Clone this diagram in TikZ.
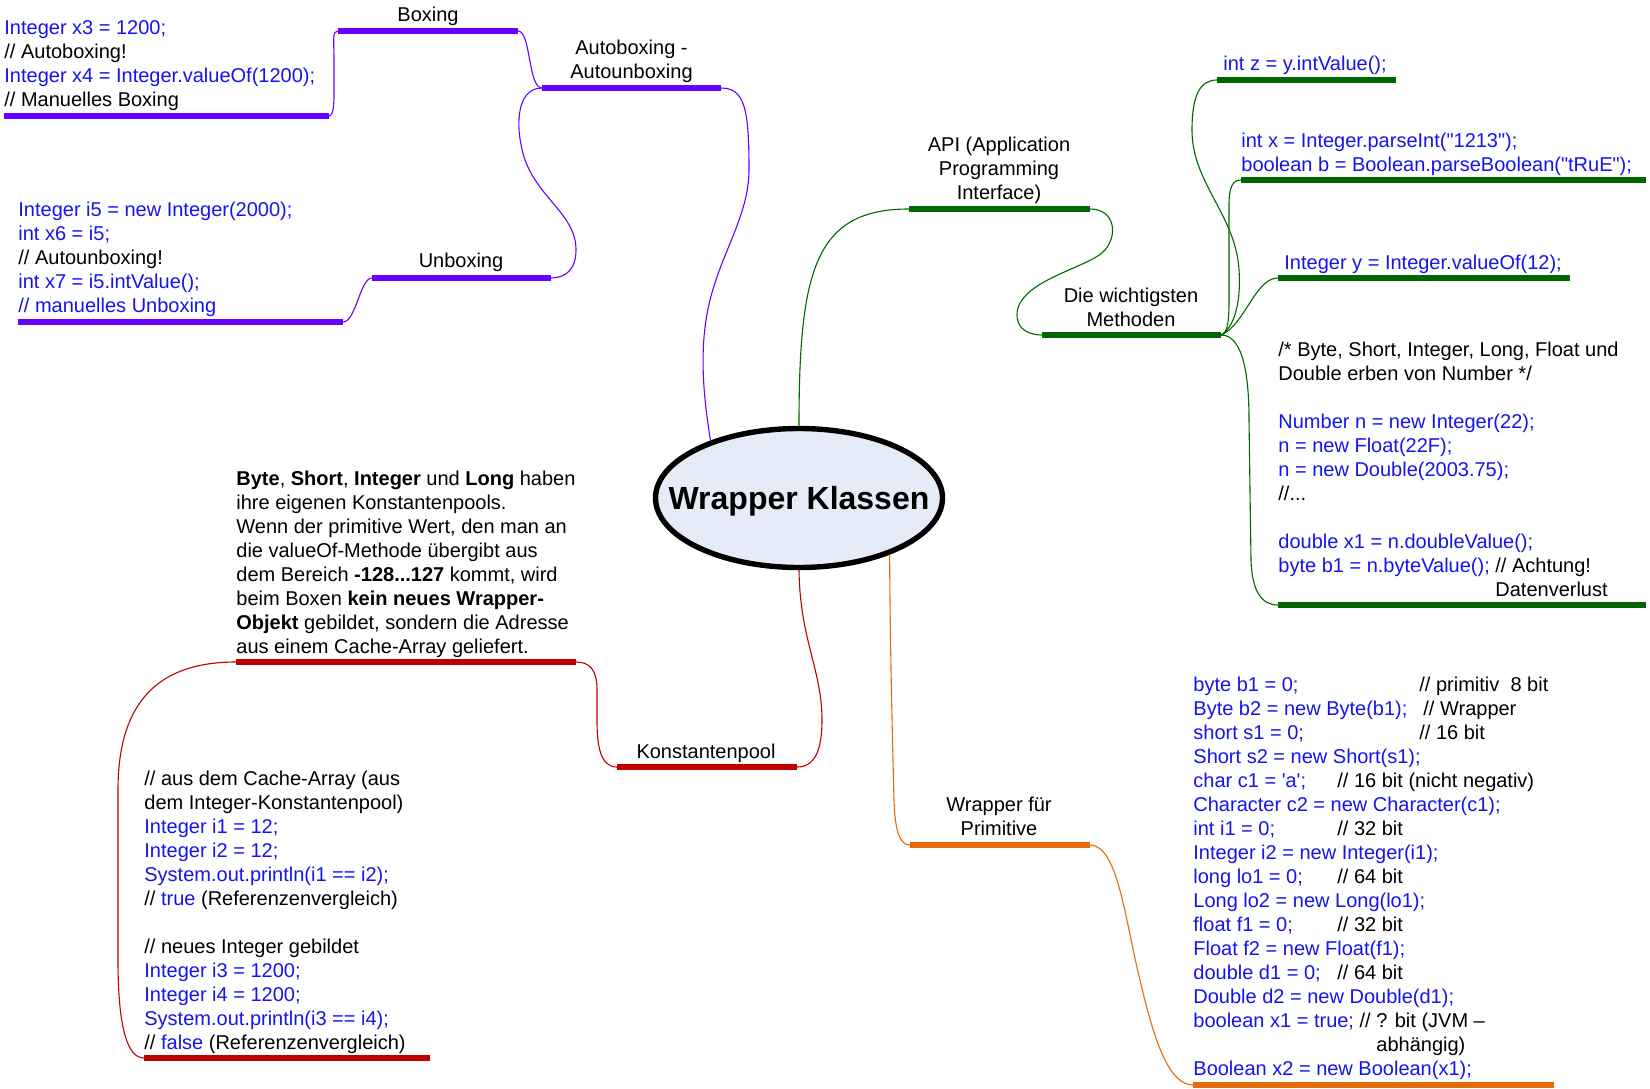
\documentclass[tikz,border=0pt]{standalone}
\usepackage{fontspec}
\setmainfont{Liberation Sans}
\usetikzlibrary{shapes.geometric}
\definecolor{cpurple}{RGB}{102,0,255}
\definecolor{cgreen}{RGB}{0,102,0}
\definecolor{cred}{RGB}{192,0,0}
\definecolor{corange}{RGB}{226,107,10}
\definecolor{cblue}{RGB}{20,20,235}
\definecolor{cfill}{RGB}{229,235,247}
\newcommand{\bl}[1]{\textcolor{cblue}{#1}}
\newcommand{\tabat}[2]{\makebox[#1][l]{#2}}
\newcommand{\lblk}[1]{\begin{tabular}[t]{@{}l@{}}#1\end{tabular}}
\newcommand{\cblk}[1]{\begin{tabular}[t]{@{}c@{}}#1\end{tabular}}
\newcommand{\dq}{\textquotedbl}
\begin{document}
\begin{tikzpicture}[x=0.5pt,y=-0.5pt,font=\fontsize{10}{12}\selectfont,
  txt/.style={inner sep=0pt,anchor=base west},
  ctxt/.style={inner sep=0pt,anchor=base},
  bar/.style={line width=2.7pt},
  conn/.style={line width=0.55pt}]
\useasboundingbox (0,0) rectangle (1650,1088);

% central node
\node[ellipse, draw=black, line width=2.7pt, fill=cfill, minimum width=143.5pt,
      minimum height=69.5pt, inner sep=0pt] (W) at (799,498) {};
\node[ctxt, font=\fontsize{16}{19}\selectfont\bfseries] (Wt) at (799,509) {Wrapper Klassen};

% ---------------- purple branch
\coordinate (aaL) at (542,88);  \coordinate (aaR) at (721,88);
\coordinate (boxL) at (338,31); \coordinate (boxR) at (518,31);
\coordinate (b1L) at (4,116);   \coordinate (b1R) at (329,116);
\coordinate (unL) at (372,278); \coordinate (unR) at (551,278);
\coordinate (b2L) at (18,322);  \coordinate (b2R) at (343,322);
\foreach \a/\b in {aaL/aaR,boxL/boxR,b1L/b1R,unL/unR,b2L/b2R}
  \draw[bar,cpurple] (\a) -- (\b);
\node[ctxt] (aa) at (631.5,54) {\cblk{Autoboxing -\\Autounboxing}};
\node[ctxt] (box) at (428,21) {Boxing};
\node[ctxt] (unb) at (461,267) {Unboxing};
\node[txt] (t1) at (4,34) {\lblk{\bl{Integer x3 = 1200;}\\// Autoboxing!\\\bl{Integer x4 = Integer.valueOf(1200);}\\// Manuelles Boxing}};
\node[txt] (t2) at (18,216.5) {\lblk{\bl{Integer i5 = new Integer(2000);}\\\bl{int x6 = i5;}\\// Autounboxing!\\\bl{int x7 = i5.intValue();}\\\bl{// manuelles Unboxing}}};
\draw[conn,cpurple] (W.147) .. controls (704,400) and (700,360) .. (706,320)
  .. controls (715,260) and (749,220) .. (749,170)
  .. controls (749,110) and (745,88) .. (aaR);
\draw[conn,cpurple] (aaL) .. controls (528,88) and (531,31) .. (boxR);
\draw[conn,cpurple] (aaL) .. controls (515,88) and (515,130) .. (525,160)
  .. controls (540,200) and (576,215) .. (576,250)
  .. controls (576,270) and (565,278) .. (unR);
\draw[conn,cpurple] (boxL) .. controls (332,31) and (334,40) .. (334,60) -- (334,95)
  .. controls (334,110) and (332,116) .. (b1R);
\draw[conn,cpurple] (unL) .. controls (360,278) and (356,322) .. (b2R);

% ---------------- green branch
\coordinate (apiL) at (909,209);  \coordinate (apiR) at (1090,209);
\coordinate (methL) at (1042,335); \coordinate (methR) at (1221,335);
\coordinate (izL) at (1217,80);   \coordinate (izR) at (1396,80);
\coordinate (pbL) at (1241,180);  \coordinate (pbR) at (1646,180);
\coordinate (ivL) at (1278,278);  \coordinate (ivR) at (1570,278);
\coordinate (bgL) at (1278,605);  \coordinate (bgR) at (1646,605);
\foreach \a/\b in {apiL/apiR,methL/methR,izL/izR,pbL/pbR,ivL/ivR,bgL/bgR}
  \draw[bar,cgreen] (\a) -- (\b);
\node[ctxt] (api) at (999,151) {\cblk{API (Application\\Programming\\Interface)}};
\node[ctxt] (meth) at (1131,302) {\cblk{Die wichtigsten\\Methoden}};
\node[txt] (iz) at (1223,70) {\bl{int z = y.intValue();}};
\node[txt] (pb) at (1241,147) {\lblk{\bl{int x = Integer.parseInt(\dq 1213\dq);}\\\bl{boolean b = Boolean.parseBoolean(\dq tRuE\dq);}}};
\node[txt] (iv) at (1284,269) {\bl{Integer y = Integer.valueOf(12);}};
\node[txt] (bg) at (1278,356) {\lblk{/* Byte, Short, Integer, Long, Float und\\Double erben von Number */\\ \\\bl{Number n = new Integer(22);}\\\bl{n = new Float(22F);}\\\bl{n = new Double(2003.75);}\\//...\\ \\\bl{double x1 = n.doubleValue();}\\\bl{byte b1 = n.byteValue();} // Achtung!\\\hspace*{108.5pt}Datenverlust}};
\draw[conn,cgreen] (W.north) .. controls (799,270) and (815,209) .. (apiL);
\draw[conn,cgreen] (apiR) .. controls (1115,209) and (1118,235) .. (1105,250)
  .. controls (1090,268) and (1017,280) .. (1017,315)
  .. controls (1017,330) and (1030,335) .. (methL);
\draw[conn,cgreen] (methR) .. controls (1238,325) and (1242,290) .. (1238,260)
  .. controls (1230,210) and (1192,180) .. (1192,130)
  .. controls (1192,95) and (1200,80) .. (izL);
\draw[conn,cgreen] (methR) .. controls (1228,333) and (1229,320) .. (1229,300) -- (1229,205)
  .. controls (1229,186) and (1233,180) .. (pbL);
\draw[conn,cgreen] (methR) .. controls (1245,325) and (1255,278) .. (ivL);
\draw[conn,cgreen] (methR) .. controls (1240,335) and (1249,365) .. (1249,420) -- (1251,560)
  .. controls (1252,592) and (1262,605) .. (bgL);

% ---------------- red branch
\coordinate (kpL) at (617,767); \coordinate (kpR) at (797,767);
\coordinate (btL) at (236,662); \coordinate (btR) at (576,662);
\coordinate (lbL) at (144,1058); \coordinate (lbR) at (430,1058);
\foreach \a/\b in {kpL/kpR,btL/btR,lbL/lbR}
  \draw[bar,cred] (\a) -- (\b);
\node[ctxt] (kp) at (706,758) {Konstantenpool};
\node[txt] (bt) at (236,485) {\lblk{\textbf{Byte}, \textbf{Short}, \textbf{Integer} und \textbf{Long} haben\\ihre eigenen Konstantenpools.\\Wenn der primitive Wert, den man an\\die valueOf-Methode übergibt aus\\dem Bereich \textbf{-128...127} kommt, wird\\beim Boxen \textbf{kein neues Wrapper-}\\\textbf{Objekt} gebildet, sondern die Adresse\\aus einem Cache-Array geliefert.}};
\node[txt] (lb) at (144,785) {\lblk{// aus dem Cache-Array (aus\\dem Integer-Konstantenpool)\\\bl{Integer i1 = 12;}\\\bl{Integer i2 = 12;}\\\bl{System.out.println(i1 == i2);}\\// \bl{true} (Referenzenvergleich)\\ \\// neues Integer gebildet\\\bl{Integer i3 = 1200;}\\\bl{Integer i4 = 1200;}\\\bl{System.out.println(i3 == i4);}\\// \bl{false} (Referenzenvergleich)}};
\draw[conn,cred] (W.south) .. controls (800,640) and (822,670) .. (822,720)
  .. controls (822,750) and (815,767) .. (kpR);
\draw[conn,cred] (kpL) .. controls (600,767) and (597,745) .. (597,720) -- (597,690)
  .. controls (597,670) and (590,662) .. (btR);
\draw[conn,cred] (btL) .. controls (160,662) and (118,700) .. (118,790) -- (118,960)
  .. controls (118,1030) and (128,1058) .. (lbL);

% ---------------- orange branch
\coordinate (wpL) at (910,845); \coordinate (wpR) at (1090,845);
\coordinate (lsL) at (1193,1085); \coordinate (lsR) at (1554,1085);
\foreach \a/\b in {wpL/wpR,lsL/lsR}
  \draw[bar,corange] (\a) -- (\b);
\node[ctxt] (wp) at (999,811) {\cblk{Wrapper für\\Primitive}};
\node[txt] (ls) at (1193,691) {\lblk{%
\tabat{113pt}{\bl{byte b1 = 0;}}// primitiv\ \ 8 bit\\
\tabat{115pt}{\bl{Byte b2 = new Byte(b1);}}// Wrapper\\
\tabat{113pt}{\bl{short s1 = 0;}}// 16 bit\\
\bl{Short s2 = new Short(s1);}\\
\tabat{72pt}{\bl{char c1 = \textquotesingle a\textquotesingle;}}// 16 bit (nicht negativ)\\
\bl{Character c2 = new Character(c1);}\\
\tabat{72pt}{\bl{int i1 = 0;}}// 32 bit\\
\bl{Integer i2 = new Integer(i1);}\\
\tabat{72pt}{\bl{long lo1 = 0;}}// 64 bit\\
\bl{Long lo2 = new Long(lo1);}\\
\tabat{72pt}{\bl{float f1 = 0;}}// 32 bit\\
\bl{Float f2 = new Float(f1);}\\
\tabat{72pt}{\bl{double d1 = 0;}}// 64 bit\\
\bl{Double d2 = new Double(d1);}\\
\bl{boolean x1 = true;} // ? bit (JVM –\\
\hspace*{91.5pt}abhängig)\\
\bl{Boolean x2 = new Boolean(x1);}}};
\draw[conn,corange] (W.-32) .. controls (890,650) and (893,760) .. (894,800)
  .. controls (895,832) and (900,845) .. (wpL);
\draw[conn,corange] (wpR) .. controls (1118,845) and (1125,920) .. (1140,980)
  .. controls (1155,1045) and (1170,1085) .. (lsL);
\end{tikzpicture}
\end{document}
